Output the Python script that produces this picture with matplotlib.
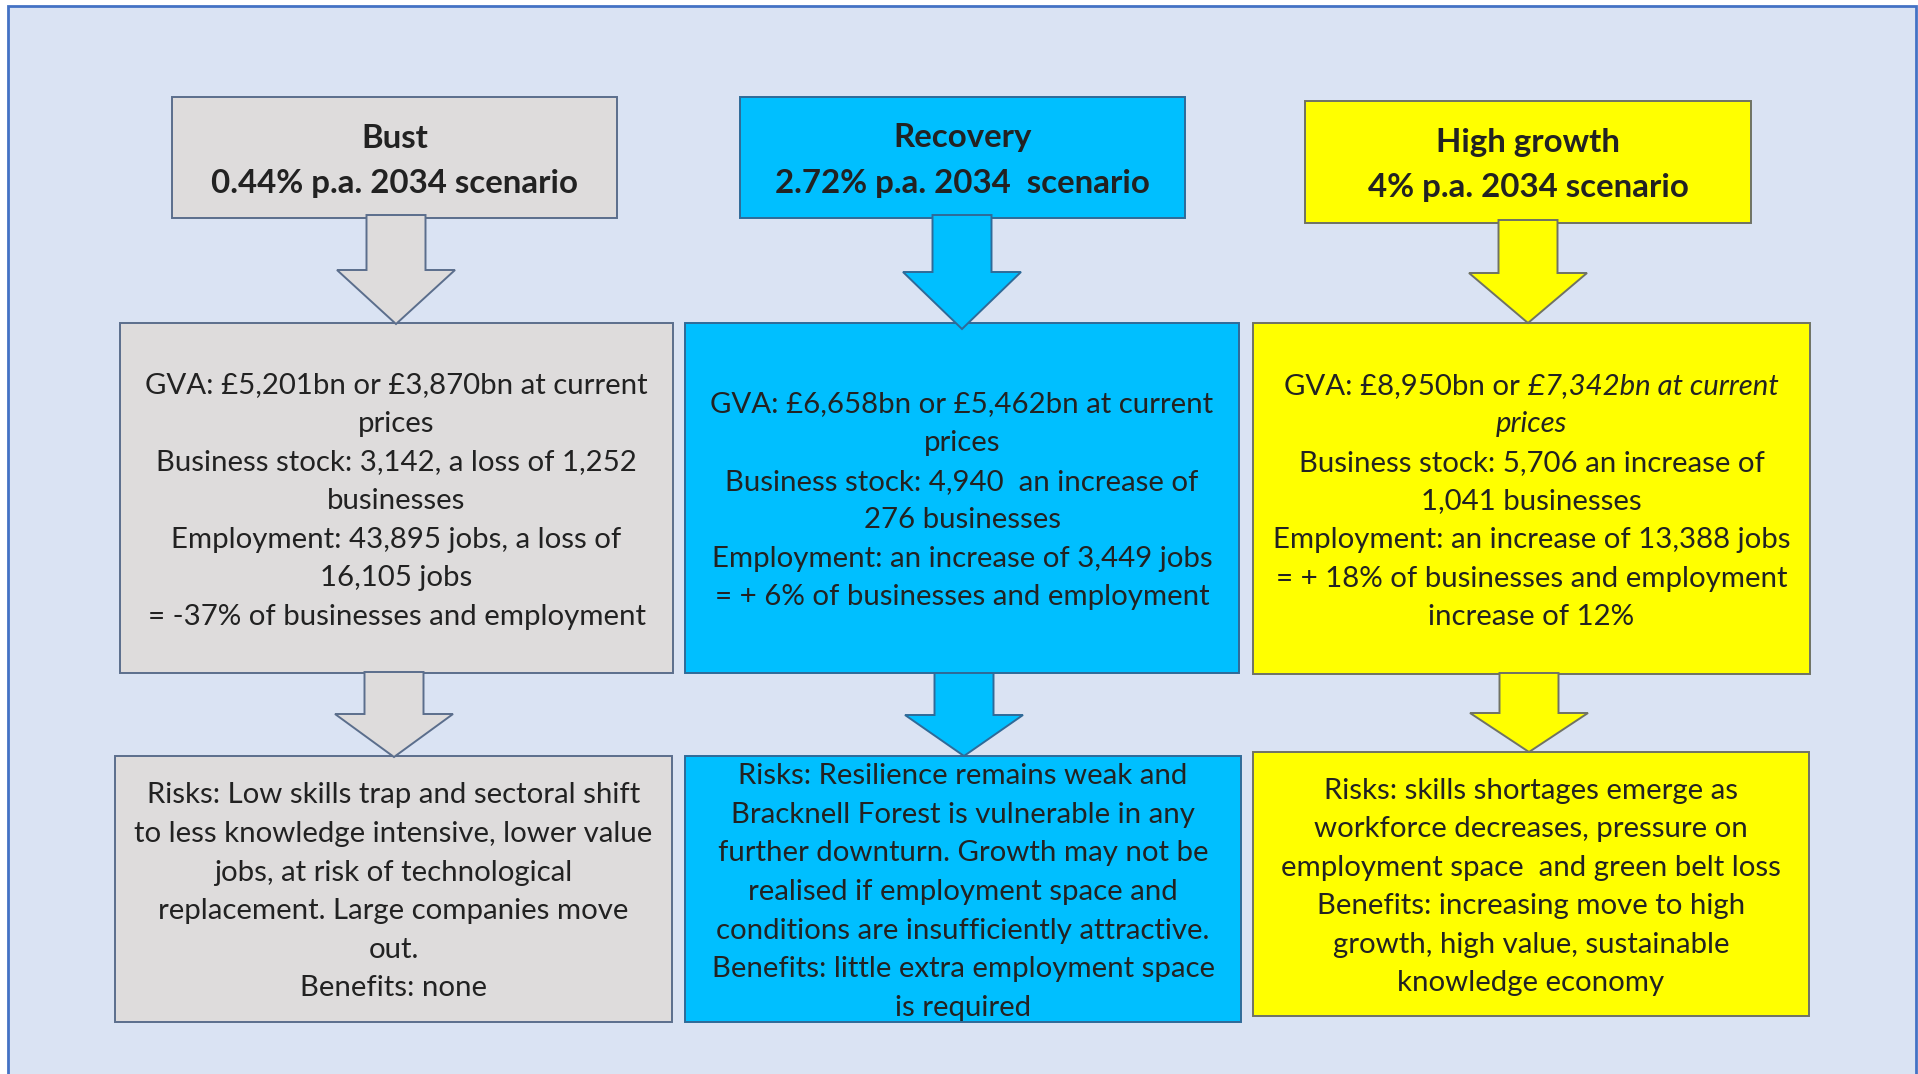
"""
Bracknell Forest 2034 economic scenarios: three coloured flows
(header -> outcomes -> risks/benefits), drawn in pixel coordinates.
"""
import matplotlib
matplotlib.use("Agg")
import matplotlib.pyplot as plt
from matplotlib.patches import Rectangle, Polygon

W, H = 1918, 1074

# ---- content ---------------------------------------------------------------
scenarios = ["Bust", "Recovery", "High growth"]
headlines = ["0.44% p.a. 2034 scenario", "2.72% p.a. 2034  scenario", "4% p.a. 2034 scenario"]

# each line is either a plain string or a list of (text, style) segments
outcome_lines = [
    ["GVA: £5,201bn or £3,870bn at current",
     "prices",
     "Business stock: 3,142, a loss of 1,252",
     "businesses",
     "Employment: 43,895 jobs, a loss of",
     "16,105 jobs",
     "= -37% of businesses and employment"],
    ["GVA: £6,658bn or £5,462bn at current",
     "prices",
     "Business stock: 4,940  an increase of",
     "276 businesses",
     "Employment: an increase of 3,449 jobs",
     "= + 6% of businesses and employment"],
    [[("GVA: £8,950bn or ", "normal"), ("£7,342bn at current", "italic")],
     [("prices", "italic")],
     "Business stock: 5,706 an increase of",
     "1,041 businesses",
     "Employment: an increase of 13,388 jobs",
     "= + 18% of businesses and employment",
     "increase of 12%"],
]

risk_lines = [
    ["Risks: Low skills trap and sectoral shift",
     "to less knowledge intensive, lower value",
     "jobs, at risk of technological",
     "replacement. Large companies move",
     "out.",
     "Benefits: none"],
    ["Risks: Resilience remains weak and",
     "Bracknell Forest is vulnerable in any",
     "further downturn. Growth may not be",
     "realised if employment space and",
     "conditions are insufficiently attractive.",
     "Benefits: little extra employment space",
     "is required"],
    ["Risks: skills shortages emerge as",
     "workforce decreases, pressure on",
     "employment space  and green belt loss",
     "Benefits: increasing move to high",
     "growth, high value, sustainable",
     "knowledge economy"],
]

fills = ["#DEDCDC", "#00BFFF", "#FFFF00"]
edges = ["#5B6E8C", "#2F6A98", "#6F7264"]

# ---- layout (pixels: x0, x1, y0, y1) --------------------------------------
header_boxes = [(172, 617, 97, 218), (740, 1185, 97, 218), (1305, 1751, 101, 223)]
outcome_boxes = [(120, 673, 323, 673), (685, 1239, 323, 673), (1253, 1810, 323, 674)]
risk_boxes = [(115, 672, 756, 1022), (685, 1241, 756, 1022), (1253, 1809, 752, 1016)]
# block arrows: (centre x, top, neck, tip)
arrows_top = [(396, 215, 270, 324), (962, 215, 272, 329), (1528, 220, 273, 323)]
arrows_low = [(394, 672, 714, 757), (964, 673, 715, 756), (1529, 673, 713, 752)]
SHAFT_W, HEAD_W = 59, 118

FONT = "Lato"
TEXT_C = "#222222"
BODY_FS = 21.2
HEAD_FS = 23.8
BODY_STEP = 38.6
HEAD_STEP = 45
TEXT_DY = 3

fig = plt.figure(figsize=(W / 100, H / 100), dpi=100, facecolor="white")
ax = fig.add_axes([0, 0, 1, 1])
ax.set_xlim(0, W)
ax.set_ylim(H, 0)
ax.axis("off")

# background panel, its bottom edge runs off the image
ax.add_patch(Rectangle((8, 6), 1908, 1120, facecolor="#DAE3F3", edgecolor="#4472C4", lw=2.0))

renderer = fig.canvas.get_renderer()


def box(b, fill, edge):
    x0, x1, y0, y1 = b
    ax.add_patch(Rectangle((x0, y0), x1 - x0, y1 - y0, facecolor=fill, edgecolor=edge, lw=1.4, zorder=2))


def arrow(a, fill, edge):
    cx, top, neck, tip = a
    s, h = SHAFT_W / 2, HEAD_W / 2
    pts = [(cx - s, top), (cx + s, top), (cx + s, neck), (cx + h, neck),
           (cx, tip), (cx - h, neck), (cx - s, neck)]
    ax.add_patch(Polygon(pts, closed=True, facecolor=fill, edgecolor=edge, lw=1.4, zorder=3))


def draw_lines(b, lines, fs, step, weight="normal"):
    x0, x1, y0, y1 = b
    cx, cy = (x0 + x1) / 2, (y0 + y1) / 2 + TEXT_DY
    first = cy - (len(lines) - 1) / 2 * step
    for i, line in enumerate(lines):
        y = first + i * step
        if isinstance(line, str):
            ax.text(cx, y, line, ha="center", va="center", fontsize=fs, family=FONT,
                    fontweight=weight, color=TEXT_C, zorder=4)
            continue
        # mixed styles: measure pieces, then lay them out centred
        pieces = []
        for txt, style in line:
            t = ax.text(0, y, txt, ha="left", va="center", fontsize=fs, family=FONT,
                        fontstyle=style, fontweight=weight, color=TEXT_C, zorder=4)
            pieces.append((t, t.get_window_extent(renderer).width))
        total = sum(w for _, w in pieces)
        x = cx - total / 2
        for t, w in pieces:
            t.set_x(x)
            x += w


for i in range(3):
    box(header_boxes[i], fills[i], edges[i])
    box(outcome_boxes[i], fills[i], edges[i])
    box(risk_boxes[i], fills[i], edges[i])
    arrow(arrows_top[i], fills[i], edges[i])
    arrow(arrows_low[i], fills[i], edges[i])
    draw_lines(header_boxes[i], [scenarios[i], headlines[i]], HEAD_FS, HEAD_STEP, weight="bold")
    draw_lines(outcome_boxes[i], outcome_lines[i], BODY_FS, BODY_STEP)
    draw_lines(risk_boxes[i], risk_lines[i], BODY_FS, BODY_STEP)

fig.savefig("out.png", dpi=100, facecolor="white")
